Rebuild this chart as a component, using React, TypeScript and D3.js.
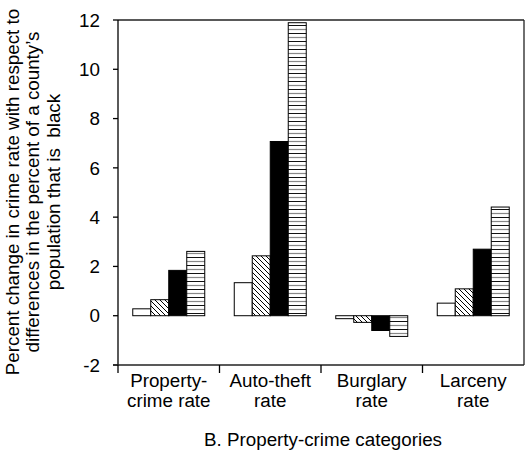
import React from "react";
import * as d3 from "d3";

const categories = ["Property-crime rate", "Auto-theft rate", "Burglary rate", "Larceny rate"];
const categoryLines = [["Property-", "crime rate"], ["Auto-theft", "rate"], ["Burglary", "rate"], ["Larceny", "rate"]];
const seriesNames = ["s1", "s2", "s3", "s4"];
const values1 = [0.28, 1.34, -0.12, 0.51];
const values2 = [0.65, 2.43, -0.27, 1.09];
const values3 = [1.84, 7.07, -0.6, 2.7];
const values4 = [2.61, 11.89, -0.84, 4.41];
const yTicks = [-2, 0, 2, 4, 6, 8, 10, 12];
const yTitleLines = ["Percent change in crime rate with respect to", "differences in the percent of a county\u2019s", "population that is  black"];
const xTitle = "B. Property-crime categories";

const W = 525, H = 454;
const left = 118, right = 524, top = 20, bottom = 365;
const font = "'Liberation Sans', Arial, Helvetica, sans-serif";
const fs = 18.8;

export default function App() {
  const series = [values1, values2, values3, values4];
  const x0 = d3.scaleBand<string>().domain(categories).range([left, right]).paddingInner(0).paddingOuter(0);
  const x1 = d3.scaleBand<string>().domain(seriesNames).range([0, x0.bandwidth()]).paddingInner(0).paddingOuter(0.82);
  const y = d3.scaleLinear().domain([-2, 12]).range([bottom, top]);
  const fills = ["#fff", "url(#hatch)", "#000", "url(#hstripe)"];
  const y0 = y(0);

  return (
    <svg width={W} height={H} style={{ position: "absolute", left: 0, top: 0, background: "#fff" }} fontFamily={font}>
      <defs>
        <pattern id="hatch" patternUnits="userSpaceOnUse" width={5} height={5}>
          <rect width={5} height={5} fill="#fff" />
          <path d="M-1,-1 L6,6 M-1,4 L1,6 M4,-1 L6,1" stroke="#000" strokeWidth={1} />
        </pattern>
        <pattern id="hstripe" patternUnits="userSpaceOnUse" width={8} height={8}>
          <rect width={8} height={8} fill="#fff" />
          <line x1={0} x2={8} y1={1.5} y2={1.5} stroke="#111" strokeWidth={1} />
          <line x1={0} x2={8} y1={5.5} y2={5.5} stroke="#888" strokeWidth={1.2} />
        </pattern>
      </defs>
      {/* frame */}
      <line x1={left} x2={right} y1={top} y2={top} stroke="#222" strokeWidth={1.3} />
      <line x1={right} x2={right} y1={top} y2={bottom} stroke="#222" strokeWidth={1.3} />
      {/* bars */}
      {categories.map((c, ci) => (
        <g key={c}>
          {seriesNames.map((s, si) => {
            const v = series[si][ci];
            const bx = (x0(c) as number) + (x1(s) as number);
            const yy = y(Math.max(0, v));
            const h = Math.abs(y(v) - y0);
            return (
              <rect key={s} x={bx} y={yy} width={x1.bandwidth()} height={h} fill={fills[si]} stroke="#000" strokeWidth={1} />
            );
          })}
        </g>
      ))}
      {/* y axis */}
      <line x1={left} x2={left} y1={top} y2={bottom} stroke="#000" strokeWidth={1.3} />
      {yTicks.map((t) => (
        <g key={t}>
          <line x1={left - 5} x2={left} y1={y(t)} y2={y(t)} stroke="#000" strokeWidth={1.3} />
          <text x={100} y={y(t)} dy="0.36em" textAnchor="end" fontSize={fs} fill="#000">{t}</text>
        </g>
      ))}
      {/* x axis */}
      <line x1={left - 5} x2={right} y1={bottom} y2={bottom} stroke="#222" strokeWidth={1.3} />
      {categories.map((c) => (
        <line key={c} x1={x0(c) as number} x2={x0(c) as number} y1={bottom} y2={bottom + 8} stroke="#000" strokeWidth={1.3} />
      ))}
      {categories.map((c, ci) => (
        <text key={c} x={(x0(c) as number) + x0.bandwidth() / 2} textAnchor="middle" fontSize={fs} fill="#000">
          {categoryLines[ci].map((l, li) => (
            <tspan key={li} x={(x0(c) as number) + x0.bandwidth() / 2} y={387 + li * 20}>{l}</tspan>
          ))}
        </text>
      ))}
      <text x={(left + right) / 2 + 2} y={446} textAnchor="middle" fontSize={fs} fill="#000">{xTitle}</text>
      {/* y title */}
      {yTitleLines.map((l, i) => (
        <text key={i} transform={`translate(${18.5 + i * 20.5},192) rotate(-90)`} textAnchor="middle" fontSize={fs} fill="#000" style={{ whiteSpace: "pre" }}>{l}</text>
      ))}
    </svg>
  );
}
